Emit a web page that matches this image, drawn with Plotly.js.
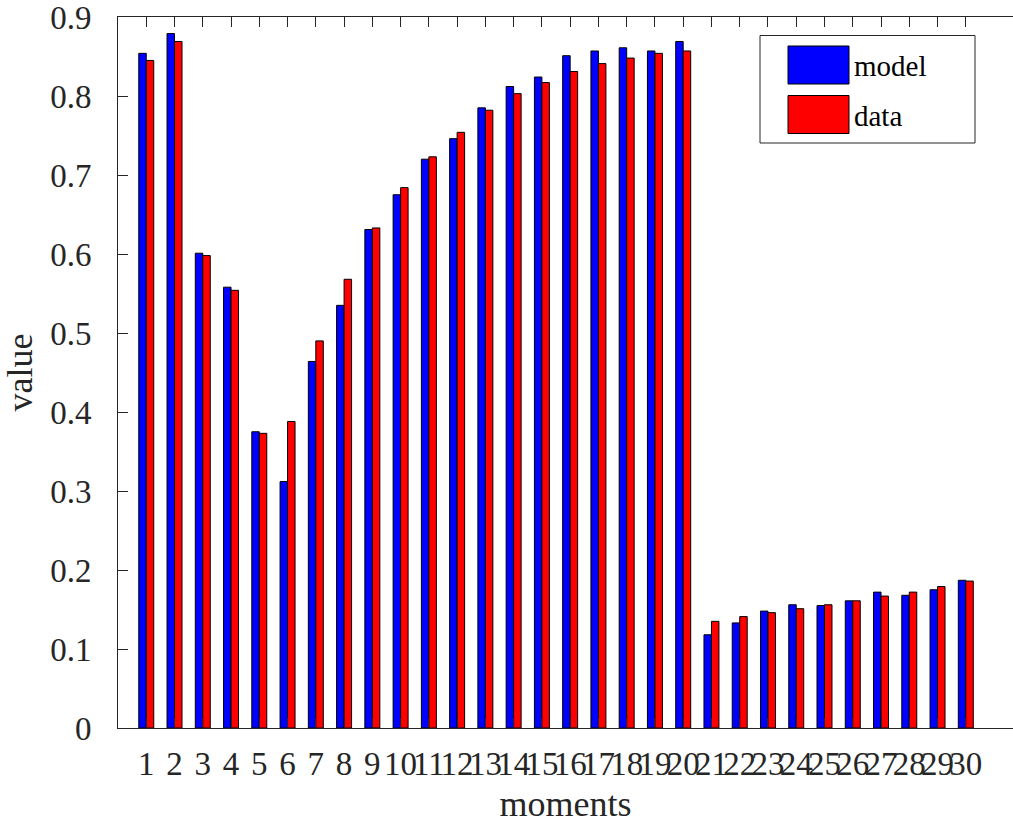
<!DOCTYPE html>
<html>
<head>
<meta charset="utf-8">
<script src="https://cdn.plot.ly/plotly-3.0.1.min.js"></script>
<style>html,body{margin:0;padding:0;background:#fff;}#chart{width:1013px;height:825px;}</style>
</head>
<body>
<div id="chart"></div>
<script>
const moments = [1,2,3,4,5,6,7,8,9,10,11,12,13,14,15,16,17,18,19,20,21,22,23,24,25,26,27,28,29,30];
const modelValues = [0.854,0.879,0.601,0.558,0.375,0.312,0.464,0.535,0.631,0.675,
                     0.720,0.746,0.785,0.812,0.824,0.851,0.857,0.861,0.857,0.869,
                     0.118,0.133,0.148,0.156,0.155,0.161,0.172,0.168,0.175,0.187];
const dataValues  = [0.845,0.869,0.598,0.554,0.373,0.388,0.490,0.568,0.633,0.684,
                     0.723,0.754,0.782,0.803,0.817,0.831,0.841,0.848,0.854,0.857,
                     0.135,0.141,0.146,0.151,0.156,0.161,0.167,0.172,0.179,0.186];
const seriesNames = ['model', 'data'];
const seriesColors = ['#0000ff', '#ff0000'];
const yTicks = [0,0.1,0.2,0.3,0.4,0.5,0.6,0.7,0.8,0.9];

const font = '"Liberation Serif", "Times New Roman", serif';
const traces = [modelValues, dataValues].map((vals, i) => ({
  type: 'bar', x: moments, y: vals, name: seriesNames[i],
  marker: {color: seriesColors[i], line: {color: '#000', width: 1}},
  showlegend: false
}));

// custom legend (MATLAB-style large swatches)
const shapes = [
  {type:'rect', xref:'paper', yref:'paper', x0:(760-118)/895, x1:(975-118)/895, y0:(728-143)/711, y1:(728-35.5)/711,
   line:{color:'#262626', width:1}, fillcolor:'#fff', layer:'above'}
];
const annotations = [];
seriesNames.forEach((n, i) => {
  const top = 46 + i*49.5, bot = top + 38;
  shapes.push({type:'rect', xref:'paper', yref:'paper', x0:(788-118)/895, x1:(849-118)/895,
    y0:(728-bot)/711, y1:(728-top)/711, fillcolor:seriesColors[i], line:{color:'#000', width:1}, layer:'above'});
  annotations.push({xref:'paper', yref:'paper', x:(852-118)/895, y:(728-(top+20))/711, xanchor:'left', yanchor:'middle',
    text:n, showarrow:false, font:{family:font, size:29, color:'#000'}});
});

const layout = {
  width: 1013, height: 825,
  margin: {l:118, r:0, t:17, b:97, pad:0},
  paper_bgcolor:'#fff', plot_bgcolor:'#fff',
  barmode:'group', bargap:0.47, bargroupgap:0,
  font:{family:font, size:33, color:'#262626'},
  xaxis:{
    range:[0, 895/28.26], tickvals: moments, ticktext: moments.map(String), tickangle:0,
    ticks:'inside', ticklen:10, tickcolor:'#262626', tickwidth:1,
    showline:true, linecolor:'#262626', linewidth:1, mirror:'ticks',
    showgrid:false, zeroline:false, ticklabeloverflow:'allow',
    tickfont:{family:font, size:33, color:'#262626'}, ticklabelstandoff:6,
    title:{text:'moments', font:{family:font, size:36, color:'#262626'}, standoff:10}
  },
  yaxis:{
    range:[0,0.9], tickvals:yTicks, ticktext:yTicks.map(String),
    ticks:'inside', ticklen:10, tickcolor:'#262626', tickwidth:1,
    showline:true, linecolor:'#262626', linewidth:1, mirror:false,
    showgrid:false, zeroline:false, ticklabeloverflow:'allow',
    tickfont:{family:font, size:33, color:'#262626'}, ticklabelstandoff:19,
    title:{text:'value', font:{family:font, size:36, color:'#262626'}, standoff:6}
  },
  shapes: shapes, annotations: annotations
};
Plotly.newPlot('chart', traces, layout, {displayModeBar:false, staticPlot:true});
</script>
</body>
</html>
